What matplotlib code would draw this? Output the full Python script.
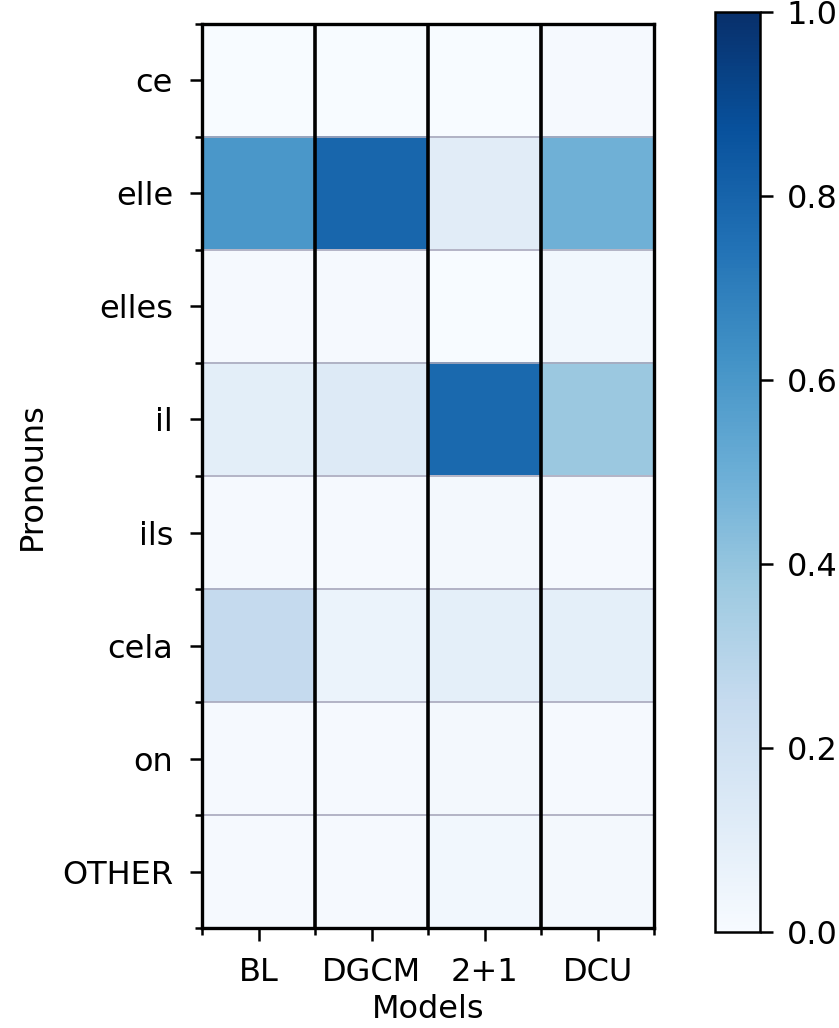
import numpy as np
import matplotlib.pyplot as plt

# data
pronouns = ["ce", "elle", "elles", "il", "ils", "cela", "on", "OTHER"]
models = ["BL", "DGCM", "2+1", "DCU"]
bl = [0.0, 0.60, 0.01, 0.10, 0.01, 0.25, 0.01, 0.01]
dgcm = [0.0, 0.79, 0.01, 0.13, 0.01, 0.06, 0.01, 0.01]
two_plus_one = [0.0, 0.11, 0.0, 0.78, 0.02, 0.09, 0.02, 0.03]
dcu = [0.01, 0.49, 0.03, 0.38, 0.01, 0.09, 0.01, 0.02]

values = np.array([bl, dgcm, two_plus_one, dcu]).T

fig = plt.figure(figsize=(8.39, 10.28), dpi=100)
ax = fig.add_axes([0.241, 0.097, 0.539, 0.880])
cax = fig.add_axes([0.852, 0.093, 0.054, 0.895])

im = ax.imshow(values, cmap="Blues", vmin=0, vmax=1, aspect="auto")

# grid lines between cells
for i in range(1, len(pronouns)):
    ax.axhline(i - 0.5, color="#a8a8bc", lw=1.2)
for j in range(1, len(models)):
    ax.axvline(j - 0.5, color="black", lw=2.6)

ax.set_xticks(range(len(models)))
ax.set_xticklabels(models, fontsize=23)
ax.set_yticks(range(len(pronouns)))
ax.set_yticklabels(pronouns, fontsize=23)
ax.set_xticks(np.arange(-0.5, len(models)), minor=True)
ax.set_yticks(np.arange(-0.5, len(pronouns)), minor=True)
ax.tick_params(which="major", length=9, width=1.8, pad=12)
ax.tick_params(which="minor", length=5, width=1.8)
ax.set_xlabel("Models", fontsize=23, labelpad=4)
ax.set_ylabel("Pronouns", fontsize=23, labelpad=10)
for s in ax.spines.values():
    s.set_linewidth(2.4)

cb = fig.colorbar(im, cax=cax, ticks=[0, 0.2, 0.4, 0.6, 0.8, 1.0])
cb.ax.tick_params(labelsize=23, length=9, width=1.8, pad=10)
cb.outline.set_linewidth(1.8)

fig.savefig("out.png", dpi=100)
